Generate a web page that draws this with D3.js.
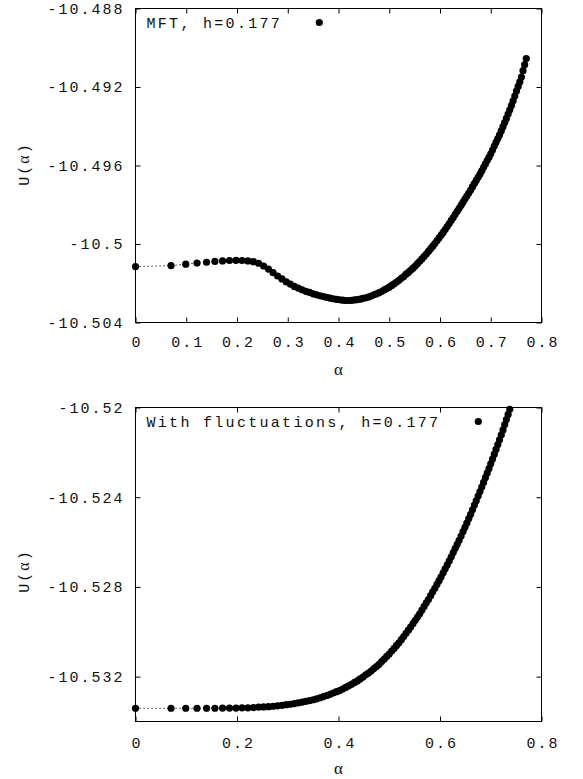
<!DOCTYPE html>
<html>
<head>
<meta charset="utf-8">
<script src="https://cdn.jsdelivr.net/npm/d3@7"></script>
<style>
  body { margin: 0; background: #fff; }
  svg { display: block; }
</style>
</head>
<body>
<div id="chart"></div>
<script>
// alpha grid shared by both curves
var alpha = [0, 0.07, 0.099, 0.1212, 0.14, 0.1565, 0.1715, 0.1852, 0.198, 0.21,
  0.2214, 0.2322, 0.2425, 0.2524, 0.2619, 0.2711, 0.28, 0.2886, 0.297, 0.3051,
  0.313, 0.3208, 0.3283, 0.3357, 0.3429, 0.35, 0.3569, 0.3637, 0.3704, 0.377,
  0.3834, 0.3897, 0.396, 0.4021, 0.4082, 0.4141, 0.42, 0.4258, 0.4315, 0.4372,
  0.4427, 0.4482, 0.4537, 0.459, 0.4643, 0.4696, 0.4748, 0.4799, 0.485, 0.49,
  0.495, 0.4999, 0.5048, 0.5096, 0.5144, 0.5191, 0.5238, 0.5285, 0.5331, 0.5377,
  0.5422, 0.5467, 0.5512, 0.5556, 0.56, 0.5644, 0.5687, 0.573, 0.5772, 0.5815,
  0.5857, 0.5898, 0.594, 0.5981, 0.6022, 0.6062, 0.6102, 0.6142, 0.6182, 0.6222,
  0.6261, 0.63, 0.6339, 0.6377, 0.6416, 0.6454, 0.6492, 0.6529, 0.6567, 0.6604,
  0.6641, 0.6678, 0.6714, 0.6751, 0.6787, 0.6823, 0.6859, 0.6894, 0.693, 0.6965,
  0.7, 0.7035, 0.707, 0.7104, 0.7139, 0.7173, 0.7207, 0.7241, 0.7275, 0.7308,
  0.7342, 0.7375, 0.7408, 0.7441, 0.7474, 0.7507, 0.7539, 0.7572, 0.7604, 0.7636,
  0.7668, 0.77];

// U(alpha), mean field
var uMFT = [-10.50115, -10.50110, -10.50103, -10.50097, -10.50093, -10.50089, -10.50086, -10.50084, -10.50083, -10.50084,
  -10.50086, -10.50090, -10.50098, -10.50112, -10.50128, -10.50146, -10.50163, -10.50178, -10.50193, -10.50204,
  -10.50216, -10.50225, -10.50233, -10.50241, -10.50247, -10.50254, -10.50259, -10.50264, -10.50268, -10.50272,
  -10.50276, -10.50279, -10.50282, -10.50284, -10.50286, -10.50288, -10.50288, -10.50287, -10.50285, -10.50283,
  -10.50281, -10.50277, -10.50274, -10.50270, -10.50265, -10.50259, -10.50254, -10.50248, -10.50242, -10.50234,
  -10.50227, -10.50220, -10.50211, -10.50203, -10.50194, -10.50185, -10.50175, -10.50166, -10.50154, -10.50145,
  -10.50134, -10.50123, -10.50112, -10.50100, -10.50088, -10.50076, -10.50064, -10.50051, -10.50038, -10.50024,
  -10.50011, -10.49998, -10.49984, -10.49969, -10.49955, -10.49941, -10.49926, -10.49911, -10.49896, -10.49880,
  -10.49865, -10.49849, -10.49833, -10.49818, -10.49802, -10.49787, -10.49771, -10.49756, -10.49740, -10.49725,
  -10.49708, -10.49692, -10.49676, -10.49660, -10.49644, -10.49627, -10.49609, -10.49592, -10.49575, -10.49558,
  -10.49540, -10.49521, -10.49501, -10.49482, -10.49463, -10.49444, -10.49424, -10.49402, -10.49381, -10.49360,
  -10.49338, -10.49316, -10.49294, -10.49270, -10.49246, -10.49221, -10.49197, -10.49174, -10.49149, -10.49117,
  -10.49086, -10.49055];

// U(alpha), with fluctuations
var uFluct = [-10.53341, -10.53341, -10.53341, -10.53341, -10.53341, -10.53341, -10.53340, -10.53340, -10.53340, -10.53339,
  -10.53339, -10.53338, -10.53336, -10.53335, -10.53334, -10.53332, -10.53330, -10.53328, -10.53325, -10.53323,
  -10.53320, -10.53317, -10.53314, -10.53310, -10.53307, -10.53303, -10.53299, -10.53294, -10.53289, -10.53284,
  -10.53279, -10.53273, -10.53267, -10.53262, -10.53255, -10.53248, -10.53241, -10.53234, -10.53226, -10.53219,
  -10.53210, -10.53202, -10.53192, -10.53184, -10.53175, -10.53164, -10.53155, -10.53145, -10.53133, -10.53122,
  -10.53110, -10.53099, -10.53086, -10.53074, -10.53061, -10.53049, -10.53035, -10.53021, -10.53007, -10.52993,
  -10.52979, -10.52964, -10.52949, -10.52934, -10.52920, -10.52903, -10.52887, -10.52871, -10.52856, -10.52839,
  -10.52822, -10.52806, -10.52789, -10.52772, -10.52755, -10.52737, -10.52719, -10.52702, -10.52684, -10.52666,
  -10.52647, -10.52628, -10.52610, -10.52592, -10.52573, -10.52553, -10.52534, -10.52515, -10.52495, -10.52476,
  -10.52456, -10.52435, -10.52416, -10.52395, -10.52375, -10.52355, -10.52334, -10.52313, -10.52293, -10.52272,
  -10.52251, -10.52230, -10.52208, -10.52187, -10.52165, -10.52144, -10.52123, -10.52100, -10.52076, -10.52054,
  -10.52031, -10.52008];

var xTicksTop = [0, 0.1, 0.2, 0.3, 0.4, 0.5, 0.6, 0.7, 0.8];
var xLabelsTop = ["0", "0.1", "0.2", "0.3", "0.4", "0.5", "0.6", "0.7", "0.8"];
var yTicksTop = [-10.488, -10.492, -10.496, -10.5, -10.504];
var yLabelsTop = ["-10.488", "-10.492", "-10.496", "-10.5", "-10.504"];

var xTicksBot = [0, 0.2, 0.4, 0.6, 0.8];
var xLabelsBot = ["0", "0.2", "0.4", "0.6", "0.8"];
var yTicksBot = [-10.52, -10.524, -10.528, -10.532];
var yLabelsBot = ["-10.52", "-10.524", "-10.528", "-10.532"];

var legendTop = "MFT, h=0.177";
var legendBot = "With fluctuations, h=0.177";

var W = 583, H = 779;
var mono = "'Liberation Mono', 'DejaVu Sans Mono', monospace";
var serif = "'Liberation Serif', 'DejaVu Serif', serif";

var svg = d3.select('#chart').append('svg')
  .attr('width', W)
  .attr('height', H);

function panel(opt) {
  var x = d3.scaleLinear().domain([0, 0.8]).range([135.5, 541.5]);
  var y = d3.scaleLinear().domain(opt.yDomain).range([opt.bottom, opt.top]);
  var g = svg.append('g');

  var clipId = 'clip' + opt.id;
  g.append('clipPath').attr('id', clipId)
    .append('rect')
    .attr('x', x.range()[0] - 4).attr('y', opt.top - 4)
    .attr('width', x.range()[1] - x.range()[0] + 8)
    .attr('height', opt.bottom - opt.top + 8);

  function style(sel) {
    sel.select('.domain').remove();
    sel.attr('font-family', mono).attr('font-size', 15);
    sel.selectAll('text').attr('letter-spacing', 2).attr('fill', '#111');
    sel.selectAll('line').attr('stroke', '#000');
  }

  g.append('g')
    .attr('transform', 'translate(0,' + opt.bottom + ')')
    .call(d3.axisBottom(x).tickValues(opt.xTicks)
      .tickFormat(function(d, i) { return opt.xLabels[i]; })
      .tickSizeInner(-5).tickSizeOuter(0).tickPadding(opt.xPad))
    .call(style)
    .selectAll('text').attr('dx', '1');

  g.append('g')
    .attr('transform', 'translate(0,' + opt.top + ')')
    .call(d3.axisTop(x).tickValues(opt.xTicks).tickFormat('')
      .tickSizeInner(-5).tickSizeOuter(0))
    .call(style);

  g.append('g')
    .attr('transform', 'translate(' + x.range()[0] + ',0)')
    .call(d3.axisLeft(y).tickValues(opt.yTicks)
      .tickFormat(function(d, i) { return opt.yLabels[i]; })
      .tickSizeInner(-5).tickSizeOuter(0).tickPadding(11))
    .call(style);

  g.append('g')
    .attr('transform', 'translate(' + x.range()[1] + ',0)')
    .call(d3.axisRight(y).tickValues(opt.yTicks).tickFormat('')
      .tickSizeInner(-5).tickSizeOuter(0))
    .call(style);

  // frame
  g.append('rect')
    .attr('x', x.range()[0]).attr('y', opt.top)
    .attr('width', x.range()[1] - x.range()[0])
    .attr('height', opt.bottom - opt.top)
    .attr('fill', 'none').attr('stroke', '#000').attr('stroke-width', 1);

  // axis titles
  g.append('text')
    .attr('x', x(0.4)).attr('y', opt.bottom + 52)
    .attr('text-anchor', 'middle')
    .attr('font-family', serif).attr('font-size', 17)
    .attr('fill', '#111')
    .text('α');

  var yl = g.append('text')
    .attr('transform', 'translate(29,' + opt.yLabelMid + ') rotate(-90)')
    .attr('text-anchor', 'middle')
    .attr('font-family', mono).attr('font-size', 15)
    .attr('fill', '#111');
  yl.append('tspan').attr('letter-spacing', 2).text('U(');
  yl.append('tspan').attr('font-family', serif).attr('font-size', 16).attr('letter-spacing', 2).text('α');
  yl.append('tspan').text(')');

  // data
  var pts = opt.values.map(function(v, i) { return [alpha[i], v]; });
  var line = d3.line()
    .x(function(d) { return x(d[0]); })
    .y(function(d) { return y(d[1]); });

  var plot = g.append('g').attr('clip-path', 'url(#' + clipId + ')');
  plot.append('path')
    .datum(pts)
    .attr('d', line)
    .attr('fill', 'none')
    .attr('stroke', '#000')
    .attr('stroke-width', 1)
    .attr('stroke-dasharray', '1.2,2.8');

  plot.selectAll('circle')
    .data(pts)
    .enter()
    .append('circle')
    .attr('cx', function(d) { return x(d[0]); })
    .attr('cy', function(d) { return y(d[1]); })
    .attr('r', 3.6)
    .attr('fill', '#000');

  // key
  g.append('text')
    .attr('x', 146.5).attr('y', opt.top + 19.5)
    .attr('font-family', mono).attr('font-size', 15)
    .attr('letter-spacing', 2.3)
    .attr('fill', '#111')
    .text(opt.legend);
  g.append('circle')
    .attr('cx', opt.keyX).attr('cy', opt.top + 14)
    .attr('r', 3.6).attr('fill', '#000');
}

panel({
  id: 'a', top: 8.5, bottom: 322.5,
  yDomain: [-10.504, -10.488],
  values: uMFT,
  xTicks: xTicksTop, xLabels: xLabelsTop,
  yTicks: yTicksTop, yLabels: yLabelsTop,
  xPad: 14, yLabelMid: 165,
  legend: legendTop, keyX: 319.3
});

panel({
  id: 'b', top: 407.5, bottom: 721.5,
  yDomain: [-10.534, -10.52],
  values: uFluct,
  xTicks: xTicksBot, xLabels: xLabelsBot,
  yTicks: yTicksBot, yLabels: yLabelsBot,
  xPad: 15.5, yLabelMid: 572,
  legend: legendBot, keyX: 478.3
});
</script>
</body>
</html>
